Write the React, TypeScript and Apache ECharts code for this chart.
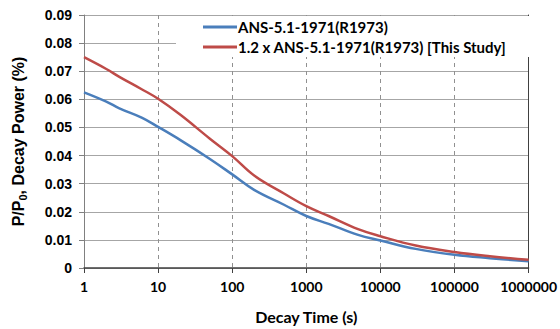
import React, { useEffect, useRef } from "react";
import * as echarts from "echarts";

const times = [1, 2, 3, 6, 10, 20, 50, 100, 200, 500, 1000, 2000, 5000, 10000, 30000, 100000, 300000, 1000000];
const ansValues = [0.0625, 0.0592, 0.0568, 0.0535, 0.0502, 0.0455, 0.0388, 0.0333, 0.0277, 0.0225, 0.0185, 0.0157, 0.0118, 0.0098, 0.0068, 0.0047, 0.0035, 0.0024];
const studyValues = [0.075, 0.0708, 0.0680, 0.0636, 0.0602, 0.0545, 0.046, 0.0398, 0.0328, 0.0265, 0.022, 0.0185, 0.0138, 0.0113, 0.008, 0.0057, 0.0042, 0.0029];
const seriesNames = ["ANS-5.1-1971(R1973)", "1.2 x ANS-5.1-1971(R1973) [This Study]"];

export default function App() {
  const ref = useRef<HTMLDivElement>(null);
  useEffect(() => {
    if (!ref.current) return;
    const chart = echarts.init(ref.current, null, { renderer: "svg" });
    const calibri = "Lato, 'Open Sans', sans-serif";
    const arial = "'Liberation Sans', Arial, sans-serif";
    chart.setOption({
      animation: false,
      backgroundColor: "#ffffff",
      grid: { left: 84, right: 30, top: 15, bottom: 60 },
      graphic: [
        {
          type: "rect",
          z: 3,
          shape: { x: 176, y: 16, width: 353, height: 41 },
          style: { fill: "#ffffff" },
        },
      ],
      legend: {
        left: 176,
        top: 16,
        orient: "vertical",
        padding: [3, 10, 4, 27],
        itemGap: 4,
        itemWidth: 34,
        itemHeight: 3,
        icon: "rect",
        z: 5,
        textStyle: { fontFamily: calibri, fontWeight: "bold", fontSize: 15, color: "#000", lineHeight: 16, padding: [0, 0, 0, -4] },
        data: seriesNames,
      },
      xAxis: {
        type: "log",
        logBase: 10,
        min: 1,
        max: 1000000,
        name: "Decay Time (s)",
        nameLocation: "middle",
        nameGap: 40,
        nameTextStyle: { fontFamily: calibri, fontWeight: "bold", fontSize: 16, color: "#000" },
        axisLine: { lineStyle: { color: "#404040", width: 1.5 } },
        axisTick: { show: true, length: 5, lineStyle: { color: "#404040" } },
        axisLabel: {
          fontFamily: calibri,
          fontWeight: "bold",
          fontSize: 14,
          color: "#000",
          margin: 11,
          formatter: (v: number) => String(Math.round(v)),
        },
        splitLine: { show: true, lineStyle: { type: [4, 4], color: "#909090", width: 1 } },
        minorTick: { show: false },
      },
      yAxis: [
        {
          type: "value",
          min: 0,
          max: 0.09,
          interval: 0.01,
          name: "{a|P/P}{s|0}{a|, Decay Power (%)}",
          nameLocation: "middle",
          nameGap: 56,
          nameTextStyle: {
            rich: {
              a: { fontFamily: arial, fontWeight: "bold", fontSize: 16, color: "#000", lineHeight: 20 },
              s: { fontFamily: arial, fontWeight: "bold", fontSize: 11, color: "#000", lineHeight: 10, verticalAlign: "bottom" },
            },
          },
          axisLine: { show: true, lineStyle: { color: "#808080", width: 1 } },
          axisTick: { show: true, length: 5, lineStyle: { color: "#808080" } },
          axisLabel: {
            fontFamily: arial,
            fontWeight: "bold",
            fontSize: 14,
            color: "#000",
            margin: 12,
            formatter: (v: number) => (v === 0 ? "0" : v.toFixed(2)),
          },
          splitLine: { show: true, lineStyle: { color: "#a6a6a6", width: 1 } },
        },
        {
          type: "value",
          min: 0,
          max: 0.09,
          position: "right",
          axisLine: { show: true, lineStyle: { color: "#404040", width: 1 } },
          axisTick: { show: false },
          axisLabel: { show: false },
          splitLine: { show: false },
        },
      ],
      series: [
        {
          name: seriesNames[0],
          type: "line",
          data: times.map((t, i) => [t, ansValues[i]]),
          smooth: 0.4,
          showSymbol: false,
          symbol: "none",
          lineStyle: { color: "#4a7ebb", width: 2.5 },
          itemStyle: { color: "#4a7ebb" },
        },
        {
          name: seriesNames[1],
          type: "line",
          data: times.map((t, i) => [t, studyValues[i]]),
          smooth: 0.4,
          showSymbol: false,
          symbol: "none",
          lineStyle: { color: "#be4b48", width: 2.5 },
          itemStyle: { color: "#be4b48" },
        },
      ],
    });
    return () => chart.dispose();
  }, []);
  return <div ref={ref} style={{ width: 560, height: 329, position: "absolute", left: 0, top: 0 }} />;
}
